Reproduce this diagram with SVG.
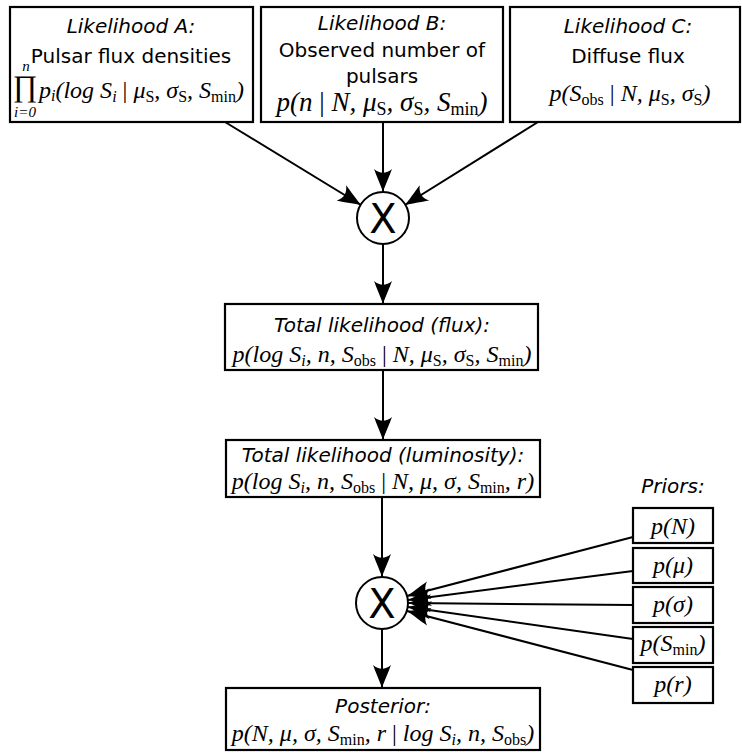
<svg xmlns="http://www.w3.org/2000/svg" width="742" height="753" viewBox="0 0 742 753">
<style>
.box{fill:#fff;stroke:#000;stroke-width:2.2}
.lbl{font-family:"DejaVu Sans",sans-serif;font-style:italic;font-size:20px;text-anchor:middle}
.up{font-family:"DejaVu Sans",sans-serif;font-size:20px;text-anchor:middle}
.m{font-family:"Liberation Serif",serif;font-style:italic;font-size:24px;text-anchor:middle}
.big{font-size:27px}
.s{font-style:normal;font-size:16px}
.bs{font-style:normal;font-size:18px}
.bar{font-style:normal}
.con{stroke:#000;stroke-width:2;fill:none}
.circ{fill:#fff;stroke:#000;stroke-width:2}
.x{font-family:"DejaVu Sans",sans-serif;font-size:40px;text-anchor:middle}
</style>
<defs>
<marker id="arr" markerUnits="userSpaceOnUse" markerWidth="26" markerHeight="20" viewBox="0 0 26 20" refX="24" refY="10" orient="auto">
<path d="M24,10 C18,8 9,4 1,1 C6,7 6,13 1,19 C9,16 18,12 24,10 Z" fill="#000"/>
</marker>
</defs>
<g id="connectors">
<line class="con" x1="225" y1="122" x2="361" y2="205" marker-end="url(#arr)"/>
<line class="con" x1="383" y1="122" x2="383" y2="192" marker-end="url(#arr)"/>
<line class="con" x1="538" y1="122" x2="405" y2="205" marker-end="url(#arr)"/>
<line class="con" x1="383" y1="244" x2="383" y2="304" marker-end="url(#arr)"/>
<line class="con" x1="383" y1="370" x2="383" y2="440" marker-end="url(#arr)"/>
<line class="con" x1="382" y1="497" x2="382" y2="577" marker-end="url(#arr)"/>
<line class="con" x1="382" y1="629" x2="382" y2="688" marker-end="url(#arr)"/>
<line class="con" x1="633" y1="537" x2="407" y2="596" marker-end="url(#arr)"/>
<line class="con" x1="633" y1="571" x2="408" y2="600" marker-end="url(#arr)"/>
<line class="con" x1="633" y1="605" x2="408" y2="603" marker-end="url(#arr)"/>
<line class="con" x1="633" y1="639" x2="408" y2="607" marker-end="url(#arr)"/>
<line class="con" x1="633" y1="670" x2="407" y2="611" marker-end="url(#arr)"/>
</g>
<g id="likelihoodA">
<rect class="box" x="10" y="7" width="243" height="115"/>
<text class="lbl" x="131" y="33">Likelihood A:</text>
<text class="up" x="131" y="63">Pulsar flux densities</text>
<text x="25" y="96" font-family="Liberation Serif,serif" font-size="30" text-anchor="middle">∏</text>
<text x="26" y="71" font-family="Liberation Serif,serif" font-style="italic" font-size="15" text-anchor="middle">n</text>
<text x="25" y="117" font-family="Liberation Serif,serif" font-style="italic" font-size="15" text-anchor="middle">i=0</text>
<text class="m" x="39" y="98" style="text-anchor:start">p<tspan dy="3" font-size="16">i</tspan><tspan dy="-3">(log S</tspan><tspan dy="4" font-size="16">i</tspan><tspan dy="-4" class="bar"> | </tspan>μ<tspan dy="4" class="s">S</tspan><tspan dy="-4">, σ</tspan><tspan dy="4" class="s">S</tspan><tspan dy="-4">, S</tspan><tspan dy="4" class="s">min</tspan><tspan dy="-4">)</tspan></text>
</g>
<g id="likelihoodB">
<rect class="box" x="261" y="7" width="242" height="115"/>
<text class="lbl" x="382" y="30">Likelihood B:</text>
<text class="up" x="382" y="57">Observed number of</text>
<text class="up" x="382" y="83">pulsars</text>
<text class="m big" x="382" y="111">p(n<tspan class="bar"> | </tspan>N, μ<tspan dy="4" class="bs">S</tspan><tspan dy="-4">, σ</tspan><tspan dy="4" class="bs">S</tspan><tspan dy="-4">, S</tspan><tspan dy="4" class="bs">min</tspan><tspan dy="-4">)</tspan></text>
</g>
<g id="likelihoodC">
<rect class="box" x="510" y="7" width="230" height="115"/>
<text class="lbl" x="628" y="33">Likelihood C:</text>
<text class="up" x="628" y="63">Diffuse flux</text>
<text class="m" x="630" y="101">p(S<tspan dy="4" class="s">obs</tspan><tspan dy="-4" class="bar"> | </tspan>N, μ<tspan dy="4" class="s">S</tspan><tspan dy="-4">, σ</tspan><tspan dy="4" class="s">S</tspan><tspan dy="-4">)</tspan></text>
</g>
<g id="product1">
<circle class="circ" cx="383" cy="218" r="26"/>
<text class="x" x="383" y="233">X</text>
</g>
<g id="totalFlux">
<rect class="box" x="225" y="304" width="313" height="66"/>
<text class="lbl" x="382" y="332">Total likelihood (flux):</text>
<text class="m" x="382" y="362">p(log S<tspan dy="4" font-size="16">i</tspan><tspan dy="-4">, n, S</tspan><tspan dy="4" class="s">obs</tspan><tspan dy="-4" class="bar"> | </tspan>N, μ<tspan dy="4" class="s">S</tspan><tspan dy="-4">, σ</tspan><tspan dy="4" class="s">S</tspan><tspan dy="-4">, S</tspan><tspan dy="4" class="s">min</tspan><tspan dy="-4">)</tspan></text>
</g>
<g id="totalLum">
<rect class="box" x="226" y="440" width="314" height="57"/>
<text class="lbl" x="383" y="462">Total likelihood (luminosity):</text>
<text class="m" x="383" y="489">p(log S<tspan dy="4" font-size="16">i</tspan><tspan dy="-4">, n, S</tspan><tspan dy="4" class="s">obs</tspan><tspan dy="-4" class="bar"> | </tspan>N, μ, σ, S<tspan dy="4" class="s">min</tspan><tspan dy="-4">, r)</tspan></text>
</g>
<g id="product2">
<circle class="circ" cx="382" cy="603" r="26"/>
<text class="x" x="382" y="618">X</text>
</g>
<g id="posterior">
<rect class="box" x="226" y="688" width="314" height="62"/>
<text class="lbl" x="383" y="713">Posterior:</text>
<text class="m" x="383" y="741">p(N, μ, σ, S<tspan dy="4" class="s">min</tspan><tspan dy="-4">, r</tspan><tspan class="bar"> | </tspan>log S<tspan dy="4" font-size="16">i</tspan><tspan dy="-4">, n, S</tspan><tspan dy="4" class="s">obs</tspan><tspan dy="-4">)</tspan></text>
</g>
<g id="priors">
<text class="lbl" x="673" y="493">Priors:</text>
</g>
<g id="priorN">
<rect class="box" x="633" y="508" width="80" height="35"/>
<text class="m" x="673" y="534" font-size="25">p(N)</text>
</g>
<g id="priorMu">
<rect class="box" x="633" y="548" width="80" height="35"/>
<text class="m" x="673" y="573" font-size="25">p(μ)</text>
</g>
<g id="priorSigma">
<rect class="box" x="633" y="587" width="80" height="36"/>
<text class="m" x="673" y="612" font-size="25">p(σ)</text>
</g>
<g id="priorSmin">
<rect class="box" x="633" y="627" width="80" height="36"/>
<text class="m" x="673" y="651" font-size="25">p(S<tspan dy="4" class="s">min</tspan><tspan dy="-4">)</tspan></text>
</g>
<g id="priorR">
<rect class="box" x="633" y="667" width="80" height="36"/>
<text class="m" x="673" y="692" font-size="25">p(r)</text>
</g>
</svg>
